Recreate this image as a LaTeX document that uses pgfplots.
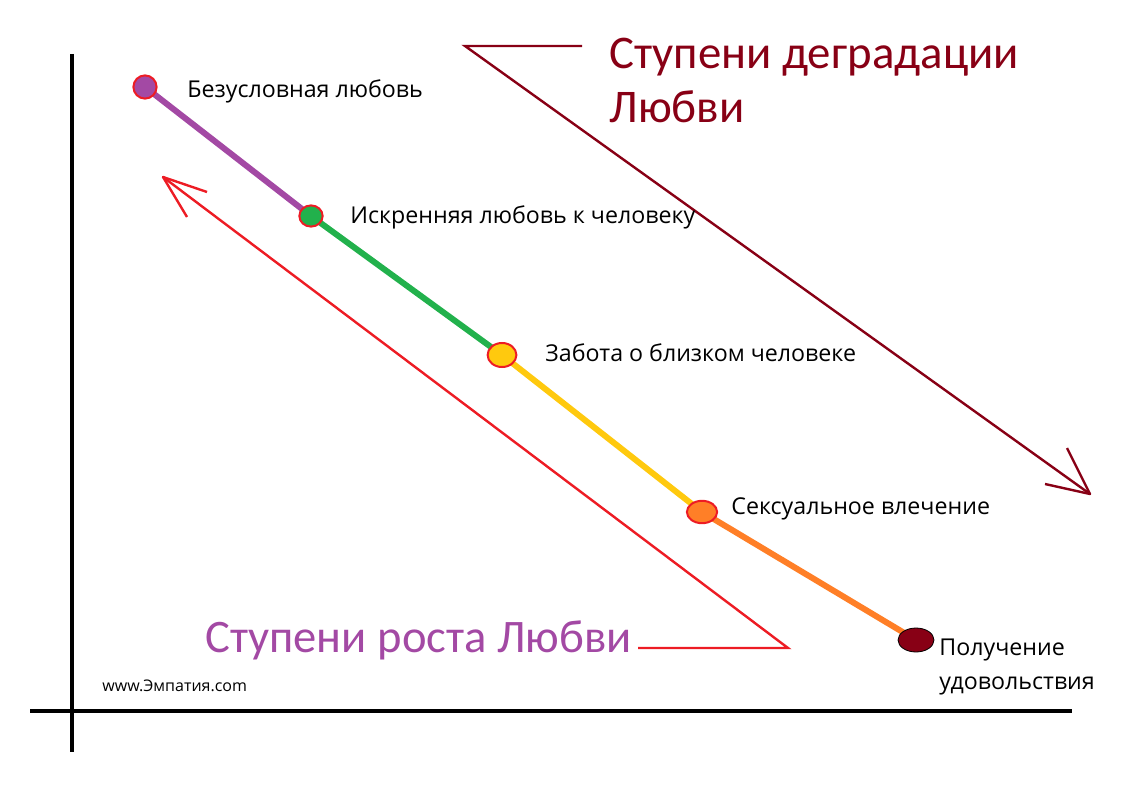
\documentclass[border=0pt]{standalone}
\usepackage{fontspec}
\setmainfont{Open Sans}
\newfontfamily\titlefont{Carlito}
\usepackage{pgfplots}
\pgfplotsset{compat=1.18}
\definecolor{cPurple}{RGB}{163,73,164}
\definecolor{cGreen}{RGB}{34,177,76}
\definecolor{cYellow}{RGB}{255,201,14}
\definecolor{cOrange}{RGB}{255,127,39}
\definecolor{cMaroon}{RGB}{136,0,21}
\definecolor{cRed}{RGB}{237,28,36}
\begin{document}
\begin{tikzpicture}
\begin{axis}[width=572pt,height=401pt,scale only axis,
  xmin=0,xmax=1144,ymin=0,ymax=802,y dir=reverse,
  hide axis,clip=false]
\addplot[draw=none] coordinates {(0,0) (1144,802)};
% axes
\addplot[black,line width=1.6pt] coordinates {(72,54) (72,752)};
\addplot[black,line width=1.6pt] coordinates {(30,711) (1072,711)};
% arrows
\addplot[cMaroon,line width=1.2pt] coordinates {(582,46) (465,46) (1090,494)};
\addplot[cMaroon,line width=1.2pt,line join=round] coordinates {(1067,448) (1090,494) (1045,484)};
\addplot[cRed,line width=1.2pt] coordinates {(638,648) (788,648) (163,177)};
\addplot[cRed,line width=1.2pt,line join=round] coordinates {(207,192) (163,177) (187,217)};
% coloured segments
\addplot[cPurple,line width=3pt] coordinates {(145,87) (311,216)};
\addplot[cGreen,line width=3pt] coordinates {(311,216) (502,355)};
\addplot[cYellow,line width=3pt] coordinates {(502,355) (702,512)};
\addplot[cOrange,line width=3pt] coordinates {(702,512) (916,640)};
% markers
\addplot[only marks,mark=*,mark size=5.8pt,mark options={fill=cPurple,draw=cRed,line width=1pt}] coordinates {(145,87)};
\addplot[only marks,mark=*,mark size=5.3pt,mark options={fill=cGreen,draw=cRed,line width=1pt,xscale=1.1}] coordinates {(311,216)};
\addplot[only marks,mark=*,mark size=6pt,mark options={fill=cYellow,draw=cRed,line width=1pt,xscale=1.2}] coordinates {(502,355)};
\addplot[only marks,mark=*,mark size=5.6pt,mark options={fill=cOrange,draw=cRed,line width=1pt,xscale=1.35}] coordinates {(702,512)};
\addplot[only marks,mark=*,mark size=6pt,mark options={fill=cMaroon,draw=none,xscale=1.5}] coordinates {(916,640)};
% labels
\tikzset{lbl/.style={anchor=base west,inner sep=0pt,font=\fontsize{11.6}{14}\selectfont}}
\node[lbl] at (axis cs:187,98) {Безусловная любовь};
\node[lbl] at (axis cs:350,223) {Искренняя любовь к человеку};
\node[lbl] at (axis cs:545,361) {Забота о близком человеке};
\node[lbl] at (axis cs:731,514) {Сексуальное влечение};
\node[lbl] at (axis cs:939,655) {Получение};
\node[lbl] at (axis cs:939,689) {удовольствия};
\node[anchor=base west,inner sep=0pt,font=\fontsize{8}{10}\selectfont] at (axis cs:102,691) {www.Эмпатия.com};
\node[anchor=base west,inner sep=0pt,text=cMaroon,font=\titlefont\fontsize{23.4}{26}\selectfont] at (axis cs:609,69) {Ступени деградации};
\node[anchor=base west,inner sep=0pt,text=cMaroon,font=\titlefont\fontsize{23.4}{26}\selectfont] at (axis cs:609,123) {Любви};
\node[anchor=base west,inner sep=0pt,text=cPurple,font=\titlefont\fontsize{23.3}{26}\selectfont] at (axis cs:205,652) {Ступени роста Любви};
\end{axis}
\end{tikzpicture}
\end{document}
